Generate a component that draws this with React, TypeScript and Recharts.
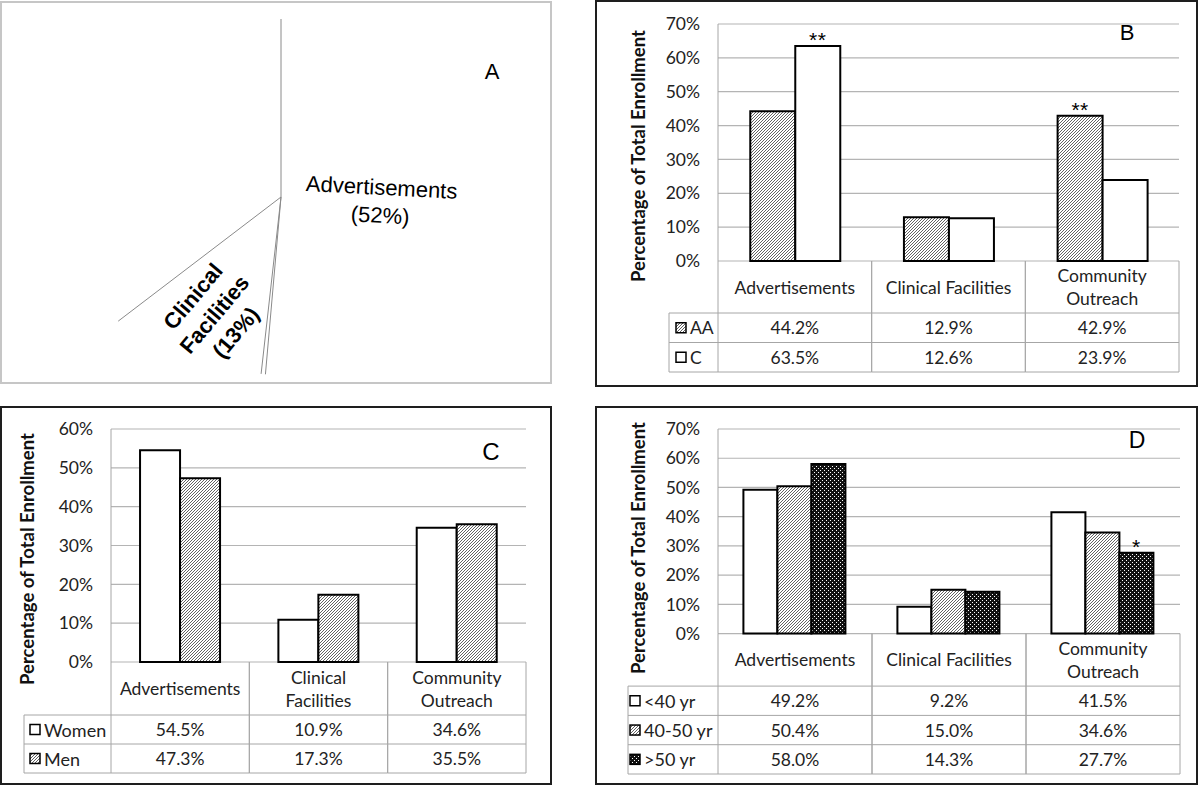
import React from 'react';
import { BarChart, Bar, XAxis, YAxis, CartesianGrid, LabelList, PieChart, Pie } from 'recharts';

// shared categories (table header text per panel)
const categories = ['Advertisements', 'Clinical Facilities', 'Community Outreach'];
const headerWide = [['Advertisements'], ['Clinical Facilities'], ['Community', 'Outreach']];
const headerNarrow = [['Advertisements'], ['Clinical', 'Facilities'], ['Community', 'Outreach']];

// A - overall source of enrollment
const pieSources = ['Advertisements', 'Clinical Facilities', 'Community Outreach'];
const pieShares = [52, 13, 35];
const pieLabelLines = [['Advertisements'], ['Clinical', 'Facilities'], []];

// B - by race
const raceAA = [44.2, 12.9, 42.9];
const raceC = [63.5, 12.6, 23.9];
const raceAAMarks = ['', '', '**'];
const raceCMarks = ['**', '', ''];

// C - by sex
const women = [54.5, 10.9, 34.6];
const men = [47.3, 17.3, 35.5];

// D - by age
const ageUnder40 = [49.2, 9.2, 41.5];
const age40to50 = [50.4, 15.0, 34.6];
const ageOver50 = [58.0, 14.3, 27.7];
const ageOver50Marks = ['', '', '*'];

const ticks70 = [0, 10, 20, 30, 40, 50, 60, 70];
const ticks60 = [0, 10, 20, 30, 40, 50, 60];

const GRID = '#b4b4b4';
const TABLE_LINE = '#a6a6a6';
const TEXT = '#222';
const BODY_FONT = 'Lato, "Open Sans", sans-serif';
const ARIAL = '"Liberation Sans", Arial, sans-serif';
const Y_W = 60;
const CELL_FONT = 17.5;

type Series = { key: string; label: string; fill: string; values: number[]; marks?: string[] };
type Box = { left: number; top: number; width: number; height: number };

type PanelProps = {
  series: Series[];
  ticks: number[];
  headerLines: string[][];
  frame: Box;
  box: Box;
  margin: { top: number; right: number; bottom: number; left: number };
  headerH: number;
  rowH: number;
  legendW: number;
  swatchPad: number;
  legendFont: number;
  gap: string;
  letter: string;
  letterSize: number;
  letterAt: [number, number];
  titleAt: [number, number];
};

const renderMark = (props: any) => {
  const { x, y, width, value } = props;
  if (!value) return null;
  return (
    <text x={x + width / 2} y={y + 1} textAnchor="middle" fontFamily={ARIAL} fontSize={21} letterSpacing={0.5} fill="#000">
      {value}
    </text>
  );
};

function TablePanel(p: PanelProps) {
  const data = categories.map((name, i) => {
    const row: Record<string, string | number> = { name };
    p.series.forEach((s) => {
      row[s.key] = s.values[i];
      if (s.marks) row[s.key + 'Mark'] = s.marks[i];
    });
    return row;
  });
  const plotW = p.box.width - p.margin.left - p.margin.right - Y_W;
  const half = plotW / categories.length / 2;
  const tableH = p.headerH + p.rowH * p.series.length;

  const tableTick = (t: any) => {
    const { x, y, payload } = t;
    const idx = categories.indexOf(payload.value);
    const l = x - half;
    const r = x + half;
    const rowsTop = y + p.headerH;
    const bottom = rowsTop + p.rowH * p.series.length;
    const lines = p.headerLines[idx];
    const legL = l - p.legendW;
    return (
      <g>
        <line x1={l} y1={y} x2={l} y2={bottom} stroke={TABLE_LINE} />
        <line x1={r} y1={y} x2={r} y2={bottom} stroke={TABLE_LINE} />
        {lines.map((ln, k) => (
          <text key={ln} x={x} y={y + p.headerH / 2 + (k - (lines.length - 1) / 2) * 23} textAnchor="middle"
            dominantBaseline="central" fontFamily={BODY_FONT} fontSize={CELL_FONT} fill={TEXT}>
            {ln}
          </text>
        ))}
        {p.series.map((s, k) => {
          const top = rowsTop + k * p.rowH;
          return (
            <g key={s.key}>
              <line x1={idx === 0 ? legL : l} y1={top} x2={r} y2={top} stroke={TABLE_LINE} />
              <text x={x} y={top + p.rowH / 2} textAnchor="middle" dominantBaseline="central"
                fontFamily={BODY_FONT} fontSize={CELL_FONT} fill={TEXT}>
                {s.values[idx].toFixed(1)}%
              </text>
              {idx === 0 && (
                <g>
                  <rect x={legL + p.swatchPad} y={top + p.rowH / 2 - 5} width={10} height={10}
                    fill={s.fill} stroke="#000" strokeWidth={1.5} />
                  <text x={legL + p.swatchPad + 14} y={top + p.rowH / 2} dominantBaseline="central"
                    fontFamily={BODY_FONT} fontSize={p.legendFont} fill={TEXT}>
                    {s.label}
                  </text>
                </g>
              )}
            </g>
          );
        })}
        <line x1={idx === 0 ? legL : l} y1={bottom} x2={r} y2={bottom} stroke={TABLE_LINE} />
        {idx === 0 && <line x1={legL} y1={rowsTop} x2={legL} y2={bottom} stroke={TABLE_LINE} />}
      </g>
    );
  };

  return (
    <>
      <div style={{ position: 'absolute', ...p.frame, boxSizing: 'border-box', border: '2.5px solid #1e1e1e' }} />
      <div style={{ position: 'absolute', left: p.box.left, top: p.box.top }}>
        <BarChart width={p.box.width} height={p.box.height} data={data} margin={p.margin}
          barCategoryGap={p.gap} barGap={0}>
          <CartesianGrid vertical={false} stroke={GRID} strokeWidth={1.2} />
          <XAxis dataKey="name" type="category" height={tableH} interval={0} axisLine={false}
            tickLine={false} tickSize={0} tickMargin={0} tick={tableTick} />
          <YAxis type="number" domain={[0, p.ticks[p.ticks.length - 1]]} ticks={p.ticks} interval={0}
            width={Y_W} tickSize={0} tickMargin={18} tickLine={false} axisLine={{ stroke: TABLE_LINE }}
            tickFormatter={(v) => `${v}%`} tick={{ fill: TEXT, fontSize: CELL_FONT, fontFamily: BODY_FONT }} />
          {p.series.map((s) => (
            <Bar key={s.key} dataKey={s.key} fill={s.fill} stroke="#000" strokeWidth={2} isAnimationActive={false}>
              {s.marks && <LabelList dataKey={s.key + 'Mark'} content={renderMark} />}
            </Bar>
          ))}
        </BarChart>
      </div>
      <div style={{
        position: 'absolute', left: p.titleAt[0], top: p.titleAt[1], transform: 'translate(-50%, -50%) rotate(-90deg)',
        whiteSpace: 'nowrap', fontFamily: BODY_FONT, fontWeight: 700, fontSize: 18.5, color: '#111',
      }}>
        Percentage of Total Enrollment
      </div>
      <div style={{
        position: 'absolute', left: p.letterAt[0], top: p.letterAt[1], transform: 'translate(-50%, -50%)',
        fontFamily: ARIAL, fontSize: p.letterSize, lineHeight: 1, color: '#000',
      }}>
        {p.letter}
      </div>
    </>
  );
}

// pie panel (A): only some slice edges and two labels are visible
const RAD = Math.PI / 180;
const polar = (cx: number, cy: number, r: number, a: number) => ({
  x: cx + r * Math.cos(-a * RAD),
  y: cy + r * Math.sin(-a * RAD),
});
const edgeReach = [[1, 1], [1, 1.15]];
const labelR = [100, 135];
const labelRot = [3, -50];

const renderPieLabel = (props: any) => {
  const { cx, cy, startAngle, endAngle, midAngle, outerRadius, index, value } = props;
  const lines = pieLabelLines[index];
  if (!lines || lines.length === 0) return null;
  const s = polar(cx, cy, outerRadius * edgeReach[index][0], startAngle);
  const e = polar(cx, cy, outerRadius * edgeReach[index][1], endAngle);
  const c = polar(cx, cy, labelR[index], midAngle);
  const all = [...lines, `(${value}%)`];
  const lh = 28;
  return (
    <g>
      <line x1={cx} y1={cy} x2={s.x} y2={s.y} stroke="#8a8a8a" />
      <line x1={cx} y1={cy} x2={e.x} y2={e.y} stroke="#8a8a8a" />
      <g transform={`translate(${c.x},${c.y}) rotate(${labelRot[index]})`}>
        {all.map((ln, k) => (
          <text key={ln} x={0} y={(k - (all.length - 1) / 2) * lh} textAnchor="middle" dominantBaseline="central"
            fontFamily={ARIAL} fontSize={22} fontWeight={index === 1 ? 700 : 400} fill="#000">
            {ln}
          </text>
        ))}
      </g>
    </g>
  );
};

const pieData = pieSources.map((name, i) => ({ name, value: pieShares[i] }));

export default function App() {
  return (
    <div style={{ position: 'absolute', left: 0, top: 0, width: 1200, height: 787, background: '#fff', overflow: 'hidden' }}>
      <svg width={0} height={0} style={{ position: 'absolute' }}>
        <defs>
          <pattern id="hatch" patternUnits="userSpaceOnUse" width={3} height={3}>
            <rect width={3} height={3} fill="#fff" />
            <path d="M-1,1 L1,-1 M0,3 L3,0 M2,4 L4,2" stroke="#3a3a3a" strokeWidth={0.8} />
          </pattern>
          <pattern id="dots" patternUnits="userSpaceOnUse" width={4} height={4}>
            <rect width={4} height={4} fill="#111" />
            <rect x={0} y={0} width={1} height={1} fill="#fff" />
            <rect x={2} y={2} width={1} height={1} fill="#fff" />
          </pattern>
        </defs>
      </svg>

      {/* A */}
      <div style={{ position: 'absolute', left: 0, top: 1, width: 552, height: 383, boxSizing: 'border-box', border: '2px solid #c6c6c6' }} />
      <div style={{ position: 'absolute', left: 0, top: 0 }}>
        <PieChart width={552} height={386}>
          <Pie data={pieData} dataKey="value" nameKey="name" cx={276} cy={192} outerRadius={178}
            startAngle={90} endAngle={-270} paddingAngle={1.4} fill="none" stroke="none"
            label={renderPieLabel} labelLine={false} isAnimationActive={false} />
        </PieChart>
      </div>
      <div style={{ position: 'absolute', left: 492, top: 72, transform: 'translate(-50%, -50%)', fontFamily: ARIAL, fontSize: 22, lineHeight: 1 }}>
        A
      </div>

      {/* B */}
      <TablePanel
        series={[
          { key: 'aa', label: 'AA', fill: 'url(#hatch)', values: raceAA, marks: raceAAMarks },
          { key: 'c', label: 'C', fill: '#fff', values: raceC, marks: raceCMarks },
        ]}
        ticks={ticks70}
        headerLines={headerWide}
        frame={{ left: 595, top: 0, width: 603, height: 387 }}
        box={{ left: 600, top: 4, width: 595, height: 372 }}
        margin={{ top: 20, right: 16, bottom: 4, left: 58 }}
        headerH={52}
        rowH={29.5}
        legendW={49}
        swatchPad={7}
        legendFont={17.5}
        gap="21%"
        letter="B"
        letterSize={22}
        letterAt={[1127, 33]}
        titleAt={[638, 156]}
      />

      {/* C */}
      <TablePanel
        series={[
          { key: 'women', label: 'Women', fill: '#fff', values: women },
          { key: 'men', label: 'Men', fill: 'url(#hatch)', values: men },
        ]}
        ticks={ticks60}
        headerLines={headerNarrow}
        frame={{ left: 0, top: 406, width: 552, height: 379 }}
        box={{ left: 4, top: 410, width: 545, height: 367 }}
        margin={{ top: 19, right: 23, bottom: 4, left: 47 }}
        headerH={53}
        rowH={29}
        legendW={87}
        swatchPad={6}
        legendFont={18}
        gap="21%"
        letter="C"
        letterSize={24}
        letterAt={[491, 452]}
        titleAt={[27, 559]}
      />

      {/* D */}
      <TablePanel
        series={[
          { key: 'u40', label: '<40 yr', fill: '#fff', values: ageUnder40 },
          { key: 'a4050', label: '40-50 yr', fill: 'url(#hatch)', values: age40to50 },
          { key: 'o50', label: '>50 yr', fill: 'url(#dots)', values: ageOver50, marks: ageOver50Marks },
        ]}
        ticks={ticks70}
        headerLines={headerWide}
        frame={{ left: 595, top: 406, width: 603, height: 379 }}
        box={{ left: 600, top: 410, width: 595, height: 368 }}
        margin={{ top: 19, right: 15, bottom: 4, left: 58 }}
        headerH={52.5}
        rowH={29.3}
        legendW={90}
        swatchPad={2}
        legendFont={18}
        gap="16.5%"
        letter="D"
        letterSize={23}
        letterAt={[1137, 440]}
        titleAt={[638, 548]}
      />
    </div>
  );
}
